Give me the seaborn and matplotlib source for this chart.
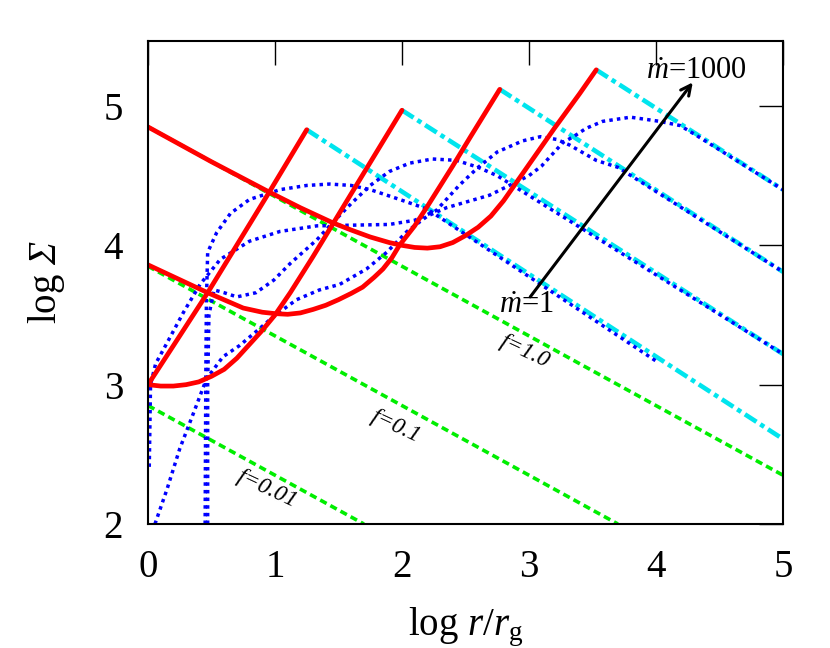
import matplotlib
matplotlib.use("Agg")
import matplotlib.pyplot as plt
import seaborn as sns

# DATA

# green dashed f lines: start point and end point
f_labels = ["f=1.0", "f=0.1", "f=0.01"]
green_x = [[0.0, 5.0], [0.0, 3.7], [0.0, 1.7]]
green_y = [[4.85, 2.35], [3.85, 2.0], [2.85, 2.0]]

# cyan dash-dot lines: from red tops to right edge
cyan_x = [[1.25, 5.0], [2.0, 5.0], [2.77, 5.0], [3.53, 5.0]]
cyan_y = [[4.83, 2.61], [4.97, 3.22], [5.12, 3.81], [5.26, 4.40]]

# red solid curves
red_A_x = [0.0, 0.5, 0.96, 1.2, 1.46, 1.6, 1.75, 1.9, 2.0, 2.1, 2.2, 2.3, 2.4, 2.5, 2.6,
           2.7, 2.8, 2.9, 3.0, 3.2, 3.4, 3.53]
red_A_y = [4.85, 4.60, 4.38, 4.27, 4.16, 4.11, 4.06, 4.02, 4.0, 3.985, 3.98, 3.99, 4.02,
           4.07, 4.13, 4.21, 4.32, 4.45, 4.58, 4.84, 5.09, 5.26]
red_B_x = [0.0, 0.47, 0.75, 0.9, 1.0, 1.1, 1.2, 1.3, 1.4, 1.5, 1.6, 1.69, 1.78, 1.85, 1.92,
           1.98, 2.1, 2.2, 2.4, 2.54, 2.77]
red_B_y = [3.86, 3.66, 3.55, 3.52, 3.51, 3.505, 3.515, 3.54, 3.57, 3.61, 3.655, 3.70, 3.77,
           3.83, 3.91, 4.0, 4.14, 4.28, 4.57, 4.78, 5.12]
red_C_x = [0.0, 0.1, 0.2, 0.3, 0.4, 0.5, 0.6, 0.7, 0.8, 0.9, 1.0, 1.12, 1.3, 1.46, 1.7, 2.0]
red_C_y = [3.0, 2.99, 2.99, 3.0, 3.02, 3.06, 3.11, 3.19, 3.29, 3.39, 3.5, 3.66, 3.92, 4.16,
           4.52, 4.97]
red_D_x = [0.0, 0.2, 0.47, 0.96, 1.25]
red_D_y = [3.0, 3.28, 3.66, 4.39, 4.83]

# blue dotted curves
blue_1_x = [0.45, 0.455, 0.46, 0.47, 0.54, 0.65, 0.80, 1.04, 1.25, 1.43, 1.6, 1.75, 1.98, 2.2, 4.0]
blue_1_y = [2.0, 3.0, 3.6, 3.95, 4.09, 4.23, 4.33, 4.40, 4.43, 4.44, 4.43, 4.40, 4.33, 4.26, 3.17]
blue_2_x = [0.47, 0.47, 0.48, 0.52, 0.60, 0.70, 0.85, 0.99, 1.12, 1.33, 1.43, 1.6, 1.75, 1.9,
            2.06, 2.24, 2.43, 2.6, 2.75, 5.0]
blue_2_y = [2.0, 3.0, 3.5, 3.68, 3.66, 3.63, 3.66, 3.75, 3.87, 4.04, 4.14, 4.30, 4.43, 4.53,
            4.59, 4.62, 4.61, 4.56, 4.50, 3.22]
blue_3_x = [0.01, 0.015, 0.02, 0.06, 0.15, 0.28, 0.41, 0.57, 0.80, 1.04, 1.33, 1.9, 2.1, 2.27,
            2.45, 2.6, 2.75, 2.95, 3.09, 3.22, 3.32, 3.53, 3.7, 5.0]
blue_3_y = [2.41, 2.7, 3.0, 3.15, 3.3, 3.52, 3.72, 3.90, 4.03, 4.10, 4.14, 4.15, 4.18, 4.25,
            4.43, 4.56, 4.67, 4.75, 4.78, 4.76, 4.72, 4.61, 4.56, 3.81]
blue_4_x = [0.055, 0.15, 0.25, 0.36, 0.46, 0.59, 0.72, 0.85, 0.99, 1.17, 1.35, 1.51, 1.72, 1.88,
            2.04, 2.2, 2.35, 2.69, 3.0, 3.1, 3.27, 3.35, 3.45, 3.58, 3.80, 4.03, 4.19, 4.3, 5.0]
blue_4_y = [2.0, 2.25, 2.54, 2.80, 3.04, 3.20, 3.28, 3.38, 3.49, 3.61, 3.68, 3.72, 3.83, 3.95,
            4.10, 4.21, 4.27, 4.36, 4.50, 4.57, 4.74, 4.78, 4.84, 4.89, 4.92, 4.89, 4.86, 4.80, 4.40]

# arrow for mdot
arrow_start = (3.01, 3.63)
arrow_end = (4.29, 5.17)


# PLOT
sns.set_style("white")
plt.rcParams["font.family"] = ["Liberation Serif", "DejaVu Serif"]
plt.rcParams["mathtext.fontset"] = "custom"
plt.rcParams["mathtext.rm"] = "Liberation Serif"
plt.rcParams["mathtext.it"] = "Liberation Serif:italic"
plt.rcParams["mathtext.sf"] = "Liberation Serif:italic"  # used for italic Sigma
plt.rcParams["text.color"] = "black"
plt.rcParams["axes.labelcolor"] = "black"

fig = plt.figure(figsize=(8.3, 6.48), dpi=100)
ax = fig.add_axes([0.1783, 0.1914, 0.765, 0.746])

green_ls = (0, (2.0, 1.2))
for gx, gy in zip(green_x, green_y):
    sns.lineplot(x=gx, y=gy, ax=ax, color="#00ee00", lw=2.6, linestyle=green_ls,
                 sort=False, estimator=None)

cyan_ls = (0, (3.0, 1.0, 1.0, 1.0))
for cx, cy in zip(cyan_x, cyan_y):
    sns.lineplot(x=cx, y=cy, ax=ax, color="#00e5ee", lw=3.3, linestyle=cyan_ls,
                 sort=False, estimator=None)

blue_ls = (0, (1.0, 1.2))
for bx, by in [(blue_1_x, blue_1_y), (blue_2_x, blue_2_y),
               (blue_3_x, blue_3_y), (blue_4_x, blue_4_y)]:
    sns.lineplot(x=bx, y=by, ax=ax, color="#0000ff", lw=2.5, linestyle=blue_ls,
                 sort=False, estimator=None)

for rx, ry in [(red_A_x, red_A_y), (red_B_x, red_B_y),
               (red_C_x, red_C_y), (red_D_x, red_D_y)]:
    sns.lineplot(x=rx, y=ry, ax=ax, color="#ff0000", lw=3.4,
                 sort=False, estimator=None)

ax.annotate("", xy=arrow_end, xytext=arrow_start,
            arrowprops=dict(arrowstyle="->", color="black", lw=2.2,
                            mutation_scale=18, shrinkA=0, shrinkB=0))

ax.text(4.32, 5.25, r"$\dot{m}$=1000", fontsize=22, ha="center", va="center")
ax.text(2.98, 3.57, r"$\dot{m}$=1", fontsize=22, ha="center", va="center")

ax.text(2.97, 3.24, f_labels[0], fontsize=17, style="italic", rotation=-25,
        ha="center", va="center")
ax.text(1.95, 2.70, f_labels[1], fontsize=17, style="italic", rotation=-25,
        ha="center", va="center")
ax.text(0.94, 2.25, f_labels[2], fontsize=17, style="italic", rotation=-25,
        ha="center", va="center")

ax.set_xlim(0, 5)
ax.set_ylim(2, 5.47)
ax.set_xticks([0, 1, 2, 3, 4, 5])
ax.set_yticks([2, 3, 4, 5])
ax.tick_params(direction="in", length=17, width=1, top=True, right=True,
               labelsize=28, pad=18, colors="black")
for s in ax.spines.values():
    s.set_linewidth(1.5)
    s.set_color("black")

ax.set_xlabel(r"log $r/r_{\rm g}$", fontsize=28, labelpad=14)
ax.set_ylabel(r"log $\mathsf{\Sigma}$", fontsize=28, labelpad=26)

fig.savefig("out.png", dpi=100)
